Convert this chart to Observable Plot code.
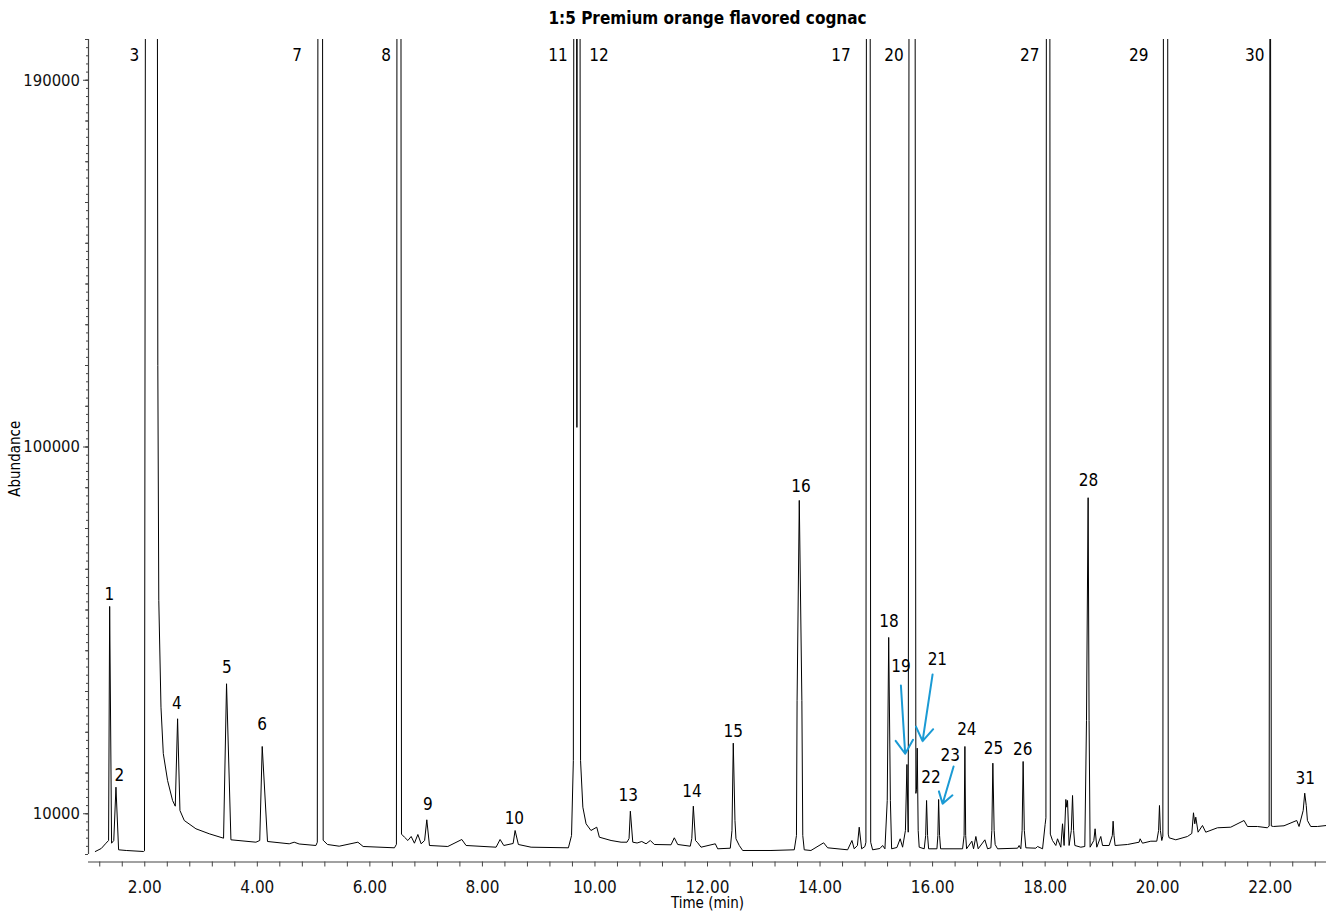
<!DOCTYPE html>
<html>
<head>
<meta charset="utf-8">
<script src="https://cdn.jsdelivr.net/npm/d3@7"></script>
<script src="https://cdn.jsdelivr.net/npm/@observablehq/plot@0.6"></script>
<style>
  body { margin: 0; background: #fff; }
</style>
</head>
<body>
<div id="chart"></div>
<script>
// ---- data: chromatogram trace [time (min), abundance] ----
const trace = [
  [1.121, 736], [1.227, 1473], [1.311, 2774], [1.357, 3436], [1.376, 60875], [1.410, 2774],
  [1.449, 3436], [1.488, 16520], [1.535, 1154], [1.671, 982], [1.979, 736], [1.995, 900],
  [2.110, 1500000], [2.232, 120000], [2.249, 62347], [2.288, 36156], [2.329, 24791],
  [2.405, 18164], [2.494, 13255], [2.542, 11856], [2.583, 33309], [2.625, 10800],
  [2.702, 8346], [2.909, 6309], [3.146, 5082], [3.400, 4001], [3.453, 41900], [3.531, 3608],
  [3.975, 3019], [4.043, 3436], [4.087, 26510], [4.181, 3191], [4.567, 2626], [4.655, 3019],
  [4.744, 2577], [5.041, 2209], [5.066, 3000], [5.118, 1000000], [5.170, 3500], [5.247, 2455],
  [5.455, 2037], [5.787, 3019], [5.881, 1964], [6.437, 1645], [6.472, 2500], [6.517, 1000000],
  [6.562, 5000], [6.615, 4247], [6.675, 3436], [6.734, 4418], [6.792, 2774], [6.853, 4909],
  [6.911, 2626], [6.973, 3436], [7.012, 8517], [7.059, 2209], [7.385, 1964], [7.634, 3682],
  [7.710, 2209], [8.243, 1792], [8.314, 3682], [8.380, 2209], [8.546, 2700], [8.581, 5891],
  [8.639, 2455], [8.865, 1792], [9.528, 1645], [9.584, 4664], [9.616, 23073], [9.648, 800000],
  [9.679, 104811], [9.708, 800000], [9.744, 23073], [9.785, 11610], [9.842, 7536],
  [9.929, 5891], [10.032, 6701], [10.078, 4247], [10.286, 3436], [10.464, 3019],
  [10.570, 3019], [10.606, 3927], [10.629, 10628], [10.672, 3019], [10.749, 2823],
  [10.832, 3191], [10.908, 2626], [10.984, 3436], [11.055, 2455], [11.352, 2381],
  [11.410, 4099], [11.471, 2455], [11.694, 2037], [11.721, 3927], [11.748, 11856],
  [11.787, 3436], [11.826, 2872], [11.885, 1792], [12.139, 2626], [12.181, 1399],
  [12.405, 1546], [12.435, 5891], [12.458, 27320], [12.488, 8346], [12.506, 3854],
  [12.565, 2209], [12.625, 982], [13.128, 982], [13.542, 1154], [13.581, 4664],
  [13.592, 37801], [13.631, 86893], [13.677, 37801], [13.693, 4664], [13.719, 1154],
  [13.838, 982], [14.064, 2872], [14.135, 1645], [14.490, 1154], [14.567, 3436],
  [14.607, 1399], [14.664, 2209], [14.696, 6701], [14.739, 1399], [14.797, 1964],
  [14.815, 3000], [14.857, 1000000], [14.900, 3000], [14.934, 1154], [15.064, 1473],
  [15.112, 2209], [15.153, 1399], [15.194, 13255], [15.220, 53265], [15.250, 13255],
  [15.272, 1399], [15.366, 1718], [15.424, 3854], [15.467, 1792], [15.517, 5891],
  [15.544, 22091], [15.567, 5474], [15.635, 1000000], [15.703, 15000], [15.714, 15881],
  [15.727, 26092], [15.744, 5891], [15.762, 1792], [15.851, 1399], [15.877, 4664],
  [15.893, 13255], [15.911, 4664], [15.929, 1399], [16.077, 1399], [16.094, 4664],
  [16.107, 13500], [16.124, 4664], [16.142, 1399], [16.533, 1399], [16.560, 4664],
  [16.574, 26510], [16.588, 4664], [16.604, 1399], [16.698, 3265], [16.728, 1399],
  [16.769, 4418], [16.810, 1399], [16.929, 3608], [16.977, 1399], [17.036, 1645],
  [17.053, 5891], [17.071, 22410], [17.094, 5891], [17.112, 2455], [17.155, 1399],
  [17.510, 1546], [17.538, 2209], [17.568, 1399], [17.591, 5891], [17.609, 22828],
  [17.630, 5891], [17.657, 1645], [17.835, 1546], [17.865, 1964], [17.954, 1399],
  [18.000, 7364], [18.014, 9000], [18.053, 1000000], [18.092, 5000], [18.131, 3436],
  [18.190, 2209], [18.220, 3854], [18.279, 1792], [18.309, 7536], [18.337, 2209],
  [18.368, 13500], [18.385, 11610], [18.398, 13255], [18.426, 2209], [18.465, 5891],
  [18.487, 14482], [18.506, 5891], [18.528, 2209], [18.634, 1792], [18.705, 1964],
  [18.735, 32892], [18.764, 87556], [18.781, 32892], [18.799, 1792], [18.865, 3436],
  [18.888, 6309], [18.918, 1792], [18.989, 4418], [19.020, 2209], [19.137, 2209],
  [19.194, 4664], [19.208, 8174], [19.224, 4664], [19.243, 2209], [19.464, 2455],
  [19.670, 3019], [19.688, 3854], [19.730, 2774], [19.878, 3265], [19.984, 3265],
  [20.016, 5891], [20.032, 12028], [20.048, 5891], [20.073, 3436], [20.092, 4500],
  [20.140, 1000000], [20.188, 5000], [20.203, 4099], [20.322, 3608], [20.529, 4418],
  [20.606, 5155], [20.636, 10236], [20.659, 7536], [20.677, 9156], [20.718, 5474],
  [20.796, 7118], [20.854, 5474], [21.062, 6554], [21.298, 6701], [21.535, 8346],
  [21.595, 6873], [21.773, 6873], [21.950, 6554], [21.981, 7000], [22.000, 300000],
  [22.019, 7000], [22.057, 6873], [22.245, 7045], [22.471, 8346], [22.512, 6873],
  [22.586, 10800], [22.613, 15047], [22.640, 12028], [22.661, 8346], [22.720, 6873],
  [22.839, 6873], [23.000, 7118]
];

// ---- peak labels: number, time and abundance where the label sits ----
const peakNumbers = ["1","2","3","4","5","6","7","8","9","10","11","12","13","14","15","16",
  "17","18","19","20","21","22","23","24","25","26","27","28","29","30","31"];
const labelTimes = [1.369, 1.547, 1.814, 2.568, 3.460, 4.087, 4.709, 6.290, 7.030, 8.568,
  9.345, 10.073, 10.593, 11.725, 12.458, 13.661, 14.371, 15.224, 15.437, 15.313, 16.085,
  15.970, 16.313, 16.609, 17.083, 17.604, 17.728, 18.771, 19.664, 21.725, 22.622];
const labelAbundances = [63820, 19391, 196122, 37064, 45901, 31910, 196122, 196122, 12273,
  8837, 196122, 196122, 14482, 15464, 30192, 90329, 196122, 57192, 46146, 196122, 47865,
  18900, 24178, 30560, 25945, 25773, 196122, 91802, 196122, 196122, 18655];

// ---- pointer arrows for peaks 19, 21, 23 ----
const arrowPeaks = ["19", "21", "23"];
const arrowStartTimes = [15.437, 16.000, 16.373];
const arrowStartAbundances = [41483, 44183, 21600];
const arrowEndTimes = [15.513, 15.822, 16.178];
const arrowEndAbundances = [24718, 27811, 12445];

// ---- axis ticks ----
const xMinorTicks = d3.range(3, 58).map(i => +(i * 0.4).toFixed(1));
const xLabelTicks = [2, 4, 6, 8, 10, 12, 14, 16, 18, 20, 22];
const yMinorTicks = d3.range(0, 200001, 2000);
const yMidTicks = d3.range(0, 200001, 10000);
const yLabelTicks = [10000, 100000, 190000];

const titleText = "1:5 Premium orange flavored cognac";
const xTitle = "Time (min)";
const yTitle = "Abundance";

// ---- build ----
const labels = peakNumbers.map((n, i) => ({n, t: labelTimes[i], a: labelAbundances[i]}));
const arrows = arrowPeaks.map((n, i) => ({
  n, t1: arrowStartTimes[i], a1: arrowStartAbundances[i], t2: arrowEndTimes[i], a2: arrowEndAbundances[i]
}));

const FONT = '"Liberation Sans Narrow", "Arial Narrow", "DejaVu Sans Condensed", sans-serif';
const AXIS = "#444";

const chart = Plot.plot({
  width: 1331,
  height: 913,
  marginLeft: 88,
  marginRight: 5,
  marginTop: 39,
  marginBottom: 51.5,
  style: {fontFamily: FONT, fontSize: "17px", color: "#111", background: "#fff", overflow: "visible"},
  x: {domain: [1, 23]},
  y: {domain: [0, 200000], insetBottom: 7.5},
  marks: [
    Plot.axisX(xMinorTicks, {tickSize: 5, tickFormat: () => "", label: null, stroke: AXIS}),
    Plot.axisX(xLabelTicks, {tickSize: 0, tickPadding: 18.5, tickFormat: d => d.toFixed(2), label: null, fontSize: 17}),
    Plot.axisY(yMinorTicks, {tickSize: 2, tickFormat: () => "", label: null, stroke: AXIS}),
    Plot.axisY(yMidTicks, {tickSize: 3, tickFormat: () => "", label: null, stroke: AXIS}),
    Plot.axisY(yLabelTicks, {tickSize: 5, tickPadding: 3.5, tickFormat: d => String(d), label: null, fontSize: 16.5, stroke: AXIS}),
    Plot.ruleX([1], {y1: 0, y2: 200000, stroke: AXIS, strokeWidth: 1.2}),
    Plot.ruleY([0], {dy: 7.5, stroke: AXIS, strokeWidth: 1.2}),
    Plot.line(trace, {x: d => d[0], y: d => d[1], stroke: "#000", strokeWidth: 1, clip: true}),
    Plot.text(labels, {x: "t", y: "a", text: "n", fontSize: 17, fill: "#000"}),
    Plot.arrow(arrows, {x1: "t1", y1: "a1", x2: "t2", y2: "a2", stroke: "#1a9ad4", strokeWidth: 2, headLength: 12, headAngle: 66}),
    Plot.text([titleText], {frameAnchor: "top", dy: -20.5, lineAnchor: "middle", textAnchor: "middle", fontWeight: "bold", fontSize: 17, fill: "#000"}),
    Plot.text([xTitle], {frameAnchor: "bottom", dy: 41.5, lineAnchor: "middle", textAnchor: "middle", fontSize: 15, fill: "#000"}),
    Plot.text([yTitle], {frameAnchor: "left", dx: -73, dy: 8, rotate: -90, lineAnchor: "middle", textAnchor: "middle", fontSize: 15, fill: "#000"})
  ]
});
document.getElementById("chart").appendChild(chart);
</script>
</body>
</html>
